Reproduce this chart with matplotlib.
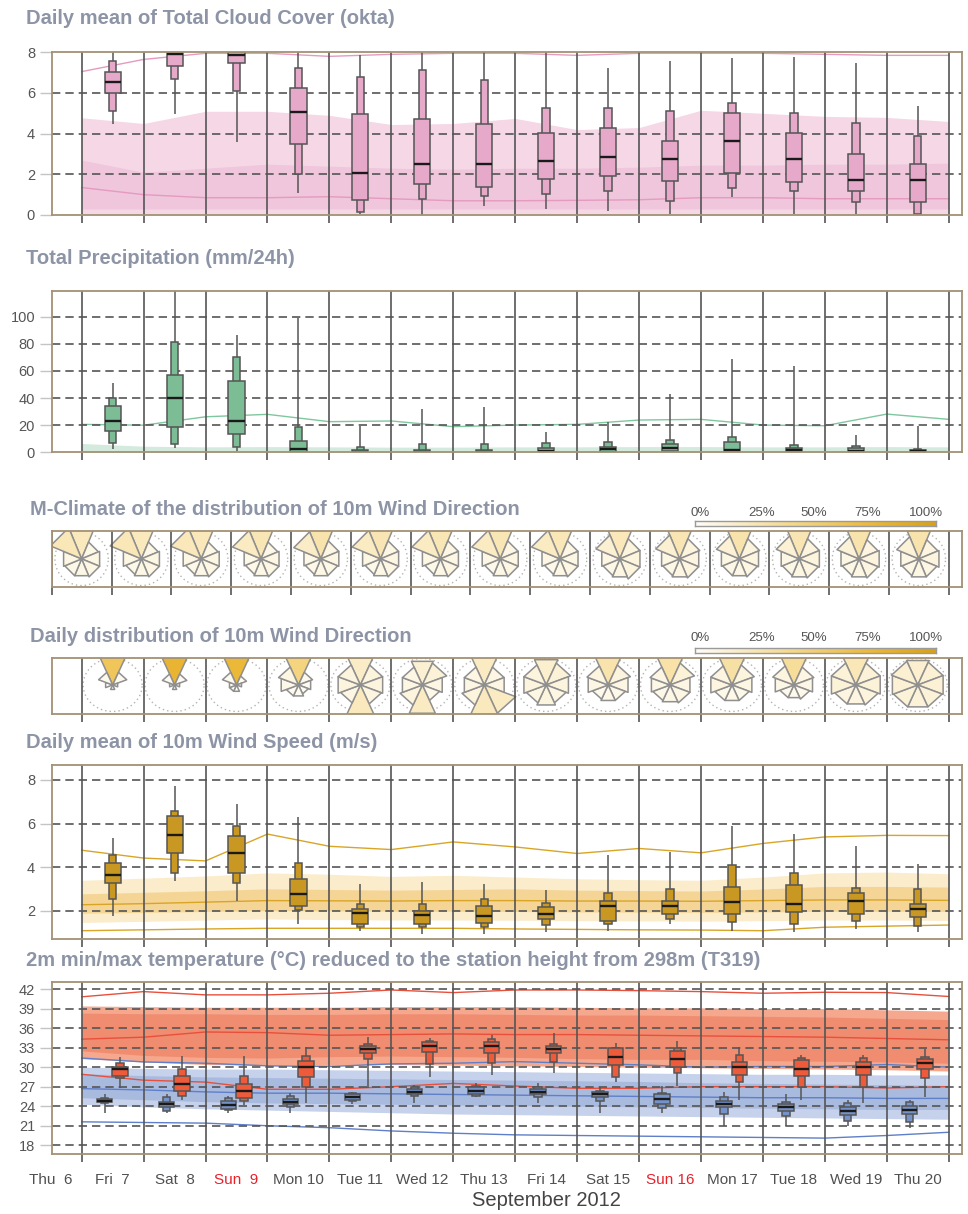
import numpy as np
import matplotlib
matplotlib.use("Agg")
import matplotlib.pyplot as plt
from matplotlib.patches import Rectangle, Polygon
from matplotlib.colors import LinearSegmentedColormap

plt.rcParams['font.family'] = ['Liberation Sans', 'DejaVu Sans']

# ---------------------------------------------------------------- data
day_labels = ["Thu  6", "Fri  7", "Sat  8", "Sun  9", "Mon 10", "Tue 11", "Wed 12",
              "Thu 13", "Fri 14", "Sat 15", "Sun 16", "Mon 17", "Tue 18", "Wed 19", "Thu 20"]
sunday_labels = ["Sun  9", "Sun 16"]
month_label = "September 2012"

# Total cloud cover (okta): ensemble min / p10 / p25 / median / p75 / p90 / max, Fri 7 .. Thu 20
cc_min = [4.47, 4.97, 3.6, 1.1, 0.03, 0.0, 0.46, 0.3, 0.2, 0.03, 0.9, 0.03, 0.03, 0.0]
cc_p10 = [5.11, 6.69, 6.1, 2.02, 0.15, 0.79, 0.95, 1.05, 1.2, 0.69, 1.34, 1.2, 0.64, 0.03]
cc_p25 = [5.98, 7.34, 7.46, 3.48, 0.72, 1.54, 1.38, 1.76, 1.93, 1.67, 2.05, 1.61, 1.2, 0.64]
cc_med = [6.55, 7.9, 7.87, 5.08, 2.08, 2.51, 2.51, 2.67, 2.84, 2.75, 3.64, 2.75, 1.71, 1.71]
cc_p75 = [7.05, 8.0, 8.0, 6.23, 4.95, 4.7, 4.46, 4.02, 4.29, 3.64, 5.01, 4.02, 3.0, 2.51]
cc_p90 = [7.59, 8.0, 8.0, 7.21, 6.8, 7.11, 6.64, 5.28, 5.28, 5.11, 5.51, 5.01, 4.52, 3.88]
cc_max = [8.0, 8.0, 8.0, 8.0, 7.87, 8.0, 8.0, 8.0, 7.23, 7.57, 7.7, 7.78, 7.47, 5.36]
# cloud cover model climate at day boundaries Fri 7 00 .. Fri 21 00
cc_clim_max = [7.05, 7.65, 7.95, 7.95, 7.8, 7.9, 7.95, 7.95, 7.85, 7.95, 7.95, 7.95, 7.9, 7.85, 7.85]
cc_clim_p90 = [4.78, 4.5, 5.1, 5.1, 4.9, 4.45, 4.5, 4.75, 4.2, 4.3, 5.15, 5.0, 4.85, 4.8, 4.6]
cc_clim_p75 = [2.7, 2.1, 2.3, 2.5, 2.4, 2.3, 2.25, 2.3, 2.3, 2.35, 2.45, 2.45, 2.5, 2.5, 2.55]
cc_clim_med = [1.35, 1.0, 0.85, 0.85, 0.9, 0.8, 0.7, 0.7, 0.72, 0.75, 0.85, 0.85, 0.8, 0.8, 0.8]
cc_clim_p25 = [0.3, 0.3, 0.3, 0.3, 0.3, 0.3, 0.3, 0.3, 0.3, 0.3, 0.3, 0.3, 0.3, 0.3, 0.3]
cc_clim_p10 = [0.0, 0.0, 0.0, 0.0, 0.0, 0.0, 0.0, 0.0, 0.0, 0.0, 0.0, 0.0, 0.0, 0.0, 0.0]

# Total precipitation (mm/24h)
pr_min = [2.2, 3.4, 1.0, 0, 0, 0, 0, 0, 0, 0, 0, 0, 0, 0]
pr_p10 = [7.1, 5.9, 3.9, 0, 0, 0, 0, 0, 0, 0.4, 0, 0, 0, 0]
pr_p25 = [15.7, 18.4, 13.3, 0, 0, 0, 0, 0, 0.4, 1.2, 0.4, 0, 0, 0]
pr_med = [23.1, 40.3, 23.1, 2.4, 0.5, 0.3, 0.3, 1.2, 2.2, 3.4, 1.7, 1.7, 1.2, 0.9]
pr_p75 = [34.1, 57.0, 52.6, 8.6, 1.7, 1.7, 1.5, 2.9, 4.1, 5.9, 7.8, 3.4, 2.9, 1.7]
pr_p90 = [40.3, 81.6, 70.5, 18.9, 3.7, 6.1, 6.1, 6.6, 7.8, 9.1, 11.5, 5.4, 4.9, 2.4]
pr_max = [51.3, 125, 86.5, 99.3, 19.4, 32.0, 33.2, 15.2, 22.6, 43.0, 68.6, 63.6, 12.8, 19.6]
pr_clim_max = [20.6, 20.0, 26.2, 28.0, 22.6, 23.1, 18.9, 20.1, 20.6, 23.8, 24.3, 20.1, 19.6, 28.2, 24.3]
pr_clim_p90 = [6.5, 4.5, 4.0, 4.2, 4.0, 3.8, 3.8, 4.0, 4.0, 4.2, 4.2, 4.0, 4.0, 4.2, 4.0]

# 10m wind direction, fraction (%) per sector N, NE, E, SE, S, SW, W, NW
mclim_dirs = [
    [22, 7, 8, 8, 7, 7, 8, 24], [22, 7, 8, 8, 7, 6, 8, 24], [23, 7, 8, 8, 7, 6, 8, 23],
    [25, 7, 8, 8, 7, 6, 7, 20], [28, 8, 8, 7, 7, 6, 7, 18], [26, 8, 8, 8, 7, 6, 8, 20],
    [25, 8, 8, 8, 7, 6, 8, 20], [25, 8, 8, 8, 7, 6, 8, 20], [24, 8, 8, 8, 7, 6, 8, 20],
    [23, 10, 10, 10, 8, 7, 8, 14], [26, 10, 9, 9, 8, 7, 8, 14], [28, 10, 9, 8, 7, 7, 8, 13],
    [26, 10, 10, 9, 8, 7, 8, 13], [28, 9, 10, 9, 8, 7, 8, 12], [28, 9, 10, 8, 8, 7, 8, 12],
]
daily_dirs = [
    [60, 4, 0.5, 0, 0.5, 0, 1, 4], [78, 3, 0.5, 0, 0.5, 0, 0.5, 3], [74, 2, 0.5, 0, 1, 1, 1, 4],
    [45, 4, 3, 2, 3, 3, 6, 8], [18, 10, 10, 9, 22, 8, 10, 10], [14, 12, 8, 6, 20, 10, 8, 8],
    [20, 8, 8, 20, 22, 10, 8, 8], [16, 12, 10, 8, 10, 8, 10, 10], [28, 10, 8, 6, 6, 5, 8, 9],
    [30, 12, 8, 8, 7, 6, 7, 8], [32, 10, 8, 6, 6, 6, 9, 9], [35, 8, 7, 5, 4, 4, 7, 9],
    [24, 12, 12, 10, 9, 9, 12, 12], [15, 13, 13, 12, 12, 12, 13, 14],
]
cbar_labels = ["0%", "25%", "50%", "75%", "100%"]

# 10m wind speed (m/s)
ws_min = [1.75, 3.36, 2.43, 1.4, 1.09, 0.93, 0.94, 1.01, 1.09, 1.4, 1.09, 1.01, 1.17, 1.01]
ws_p10 = [2.55, 3.75, 3.29, 2.05, 1.24, 1.24, 1.24, 1.35, 1.4, 1.63, 1.47, 1.4, 1.55, 1.32]
ws_p25 = [3.29, 4.67, 3.75, 2.24, 1.4, 1.4, 1.43, 1.63, 1.55, 1.86, 1.86, 1.94, 1.86, 1.74]
ws_med = [3.63, 5.5, 4.65, 2.78, 1.88, 1.83, 1.75, 1.86, 2.2, 2.24, 2.4, 2.32, 2.47, 2.09]
ws_p75 = [4.21, 6.35, 5.42, 3.47, 2.09, 2.01, 2.24, 2.17, 2.44, 2.44, 3.09, 3.17, 2.83, 2.32]
ws_p90 = [4.58, 6.59, 5.87, 4.21, 2.32, 2.32, 2.55, 2.37, 2.83, 2.98, 4.12, 3.75, 3.06, 2.98]
ws_max = [5.32, 7.73, 6.9, 6.29, 3.24, 3.32, 3.24, 2.94, 4.55, 4.7, 5.88, 5.52, 4.98, 4.13]
ws_clim_max = [4.78, 4.42, 4.29, 5.52, 4.96, 4.81, 5.16, 4.93, 4.63, 4.86, 4.66, 5.09, 5.39, 5.46, 5.45]
ws_clim_p90 = [3.4, 3.5, 3.6, 3.74, 3.68, 3.58, 3.63, 3.55, 3.47, 3.43, 3.4, 3.55, 3.74, 3.78, 3.7]
ws_clim_p75 = [2.78, 2.85, 2.92, 3.01, 2.98, 2.95, 2.98, 3.01, 2.95, 2.93, 2.91, 3.0, 3.12, 3.12, 3.09]
ws_clim_med = [2.28, 2.33, 2.4, 2.47, 2.46, 2.45, 2.47, 2.47, 2.45, 2.45, 2.44, 2.47, 2.5, 2.5, 2.48]
ws_clim_p25 = [1.89, 1.93, 1.97, 2.01, 2.0, 1.98, 1.98, 1.97, 1.95, 1.94, 1.93, 1.95, 1.98, 1.98, 1.97]
ws_clim_p10 = [1.47, 1.52, 1.58, 1.63, 1.6, 1.58, 1.58, 1.57, 1.55, 1.54, 1.53, 1.55, 1.58, 1.58, 1.56]
ws_clim_min = [1.09, 1.13, 1.17, 1.2, 1.2, 1.2, 1.2, 1.17, 1.15, 1.13, 1.12, 1.09, 1.25, 1.3, 1.35]

# 2m minimum temperature (deg C)
tn_min = [22.9, 23.0, 23.0, 22.9, 24.3, 24.55, 25.37, 24.45, 22.9, 22.9, 21.0, 21.0, 21.0, 20.7]
tn_p10 = [24.5, 23.3, 23.4, 23.93, 24.8, 25.6, 25.6, 25.47, 24.85, 23.78, 22.8, 22.55, 21.73, 21.53]
tn_p25 = [24.6, 23.84, 23.58, 24.3, 24.96, 25.9, 25.9, 25.9, 25.47, 24.34, 23.93, 23.27, 22.65, 22.76]
tn_med = [24.85, 24.34, 24.19, 24.7, 25.47, 26.24, 26.4, 26.14, 25.9, 25.06, 24.34, 23.93, 23.3, 23.43]
tn_p75 = [25.1, 24.6, 24.85, 25.1, 25.8, 26.6, 26.9, 26.6, 26.14, 25.8, 24.85, 24.34, 23.93, 24.04]
tn_p90 = [25.2, 25.37, 25.2, 25.5, 26.0, 26.9, 27.1, 26.9, 26.4, 26.1, 25.47, 24.7, 24.45, 24.7]
tn_max = [25.9, 25.9, 25.6, 26.1, 26.24, 27.26, 27.6, 27.6, 27.0, 27.1, 26.14, 25.9, 24.96, 24.96]
# 2m maximum temperature (deg C)
tx_min = [26.85, 24.96, 24.19, 24.45, 26.85, 28.55, 28.8, 29.06, 27.77, 27.1, 24.96, 24.96, 24.45, 25.47]
tx_p10 = [28.4, 25.6, 24.85, 27.0, 31.2, 30.49, 30.6, 30.84, 28.55, 29.06, 27.77, 27.0, 27.0, 28.4]
tx_p25 = [28.65, 26.3, 25.3, 28.55, 32.1, 32.38, 32.2, 32.1, 30.3, 30.08, 28.8, 28.65, 28.8, 29.67]
tx_med = [29.67, 27.37, 26.3, 30.08, 32.74, 33.3, 33.3, 32.8, 31.6, 31.2, 30.08, 29.67, 30.08, 30.6]
tx_p75 = [29.98, 28.65, 27.37, 30.95, 33.25, 33.8, 33.9, 33.3, 33.0, 32.5, 30.84, 31.1, 30.84, 31.25]
tx_p90 = [30.6, 29.67, 28.65, 31.7, 33.5, 34.07, 34.28, 33.56, 33.0, 32.9, 31.87, 31.46, 31.36, 31.6]
tx_max = [31.5, 31.7, 31.7, 33.05, 34.7, 34.43, 34.95, 35.2, 33.67, 34.0, 33.05, 31.87, 31.87, 32.74]
# temperature model climate at day boundaries
tx_clim_max = [40.8, 41.6, 41.1, 41.1, 41.35, 41.85, 41.45, 41.85, 41.85, 41.75, 41.6, 41.35, 41.5, 41.45, 40.85]
tx_clim_p90 = [39.4, 39.3, 39.2, 39.2, 39.2, 39.3, 39.3, 39.3, 39.2, 39.1, 39.1, 39.0, 39.0, 38.8, 38.6]
tx_clim_p75 = [38.3, 38.2, 38.2, 38.1, 38.1, 38.2, 38.2, 38.1, 38.0, 38.0, 37.9, 37.8, 37.7, 37.5, 37.3]
tx_clim_med = [34.3, 34.6, 35.4, 35.3, 34.9, 35.0, 35.1, 35.0, 35.0, 34.9, 34.8, 34.7, 34.6, 34.4, 34.2]
tx_clim_p25 = [32.5, 31.8, 31.5, 31.4, 31.6, 31.7, 31.6, 31.5, 31.3, 31.2, 31.2, 31.0, 30.9, 30.8, 30.6]
tx_clim_p10 = [31.3, 30.8, 30.4, 30.3, 30.3, 30.4, 30.3, 30.2, 30.1, 30.0, 29.9, 29.8, 29.7, 29.6, 29.4]
tx_clim_min = [28.9, 28.0, 27.7, 26.6, 26.6, 27.0, 27.5, 27.1, 26.75, 26.75, 27.0, 27.0, 27.0, 26.8, 27.0]
tn_clim_max = [31.4, 30.8, 30.6, 30.2, 30.1, 30.5, 30.6, 30.85, 30.6, 30.35, 30.0, 30.1, 30.1, 30.4, 30.0]
tn_clim_p90 = [30.0, 29.8, 29.7, 29.7, 29.6, 29.5, 29.4, 29.3, 29.2, 29.1, 29.0, 28.9, 28.9, 28.8, 28.8]
tn_clim_p75 = [29.0, 28.7, 28.5, 28.4, 28.3, 28.2, 28.1, 28.0, 27.9, 27.8, 27.6, 27.5, 27.4, 27.3, 27.2]
tn_clim_med = [26.7, 26.5, 26.2, 26.0, 26.0, 25.9, 25.8, 25.7, 25.6, 25.5, 25.4, 25.3, 25.3, 25.2, 25.2]
tn_clim_p25 = [25.3, 25.0, 24.7, 24.5, 24.4, 24.3, 24.2, 24.1, 24.0, 23.9, 23.8, 23.7, 23.6, 23.5, 23.5]
tn_clim_p10 = [24.3, 23.9, 23.6, 23.4, 23.2, 23.0, 22.8, 22.7, 22.6, 22.5, 22.4, 22.3, 22.2, 22.1, 22.0]
tn_clim_min = [21.6, 21.5, 21.4, 21.0, 20.7, 20.2, 19.85, 19.6, 19.5, 19.4, 19.3, 19.2, 19.1, 19.5, 20.0]

# ---------------------------------------------------------------- layout
W, H = 968, 1214
fig = plt.figure(figsize=(W / 100, H / 100), dpi=100)

AX_L, AX_R = 51.7, 962.3
DAY_PX = 61.93
X0_PX = 81.7
XMIN = (AX_L - X0_PX) / DAY_PX
XMAX = (AX_R - X0_PX) / DAY_PX

SPINE = "#a39274"
GRID = "#555555"
TITLE = "#8d94a6"
TICK_TXT = "#555555"

n_days = len(cc_med)
box_x = np.arange(n_days) + 0.5
bounds = np.arange(n_days + 1)


def add_px_axes(top, bottom):
    return fig.add_axes([AX_L / W, 1 - bottom / H, (AX_R - AX_L) / W, (bottom - top) / H])


def frame(ax, top, bottom, lines):
    ax.set_xlim(XMIN, XMAX)
    ax.set_xticks([])
    for s in ax.spines.values():
        s.set_color(SPINE)
        s.set_linewidth(1.3)
        s.set_zorder(10)
    ax.vlines(lines, 0, 1, transform=ax.get_xaxis_transform(), color="#555555", lw=1.2, zorder=2.5)
    tick_len = 8.0 / (bottom - top)
    ax.vlines(lines, -tick_len, 0, transform=ax.get_xaxis_transform(), color="#555555",
              lw=1.2, clip_on=False)


def yaxis(ax, ylim, ticks, grid):
    ax.set_ylim(*ylim)
    ax.set_yticks(ticks)
    ax.set_yticklabels([str(t) for t in ticks])
    ax.tick_params(axis="y", length=9, width=1, color="#c4c4c4", labelsize=10.5,
                   labelcolor=TICK_TXT, pad=3)
    for g in grid:
        ax.axhline(g, color=GRID, lw=1.2, ls=(0, (5, 3)), zorder=2.4)


def title(y, text, x=26):
    fig.text(x / W, 1 - y / H, text, fontsize=14.5, fontweight="bold", color=TITLE,
             va="center", ha="left")


def boxes(ax, xs, lo, p10, p25, med, p75, p90, hi, color, wide=0.26, narrow=0.12):
    for x, a, b, c, m, d, e, f in zip(xs, lo, p10, p25, med, p75, p90, hi):
        ax.vlines(x, a, f, color="#555555", lw=1.1, zorder=3)
        ax.add_patch(Rectangle((x - narrow / 2, b), narrow, e - b, fc=color, ec="#555555",
                               lw=1.1, zorder=4))
        ax.add_patch(Rectangle((x - wide / 2, c), wide, d - c, fc=color, ec="#555555",
                               lw=1.1, zorder=5))
        ax.hlines(m, x - wide / 2, x + wide / 2, color="#1a1a1a", lw=1.7, zorder=6)


def climate(ax, lo_out, hi_out, lo_in, hi_in, med, c_out, c_in, c_line, lmax=None, lmin=None):
    ax.fill_between(bounds, lo_out, hi_out, color=c_out, lw=0, zorder=1)
    ax.fill_between(bounds, lo_in, hi_in, color=c_in, lw=0, zorder=1.1)
    ax.plot(bounds, med, color=c_line, lw=1.0, zorder=1.3)
    if lmax is not None:
        ax.plot(bounds, lmax, color=c_line, lw=1.0, zorder=1.3)
    if lmin is not None:
        ax.plot(bounds, lmin, color=c_line, lw=1.0, zorder=1.3)


# ---------------------------------------------------------------- cloud cover
title(18, "Daily mean of Total Cloud Cover (okta)")
ax = add_px_axes(52.3, 215)
frame(ax, 52.3, 215, bounds)
yaxis(ax, (0, 8), [0, 2, 4, 6, 8], [2, 4, 6])
climate(ax, cc_clim_p10, cc_clim_p90, cc_clim_p25, cc_clim_p75, cc_clim_med,
        "#f5d7e6", "#efc6dc", "#e59ac0", lmax=cc_clim_max)
boxes(ax, box_x, cc_min, cc_p10, cc_p25, cc_med, cc_p75, cc_p90, cc_max, "#e6a9c9")

# ---------------------------------------------------------------- precipitation
title(258, "Total Precipitation (mm/24h)")
ax = add_px_axes(291, 452.3)
frame(ax, 291, 452.3, bounds)
yaxis(ax, (0, 119), [0, 20, 40, 60, 80, 100], [20, 40, 60, 80, 100])
ax.fill_between(bounds, 0, pr_clim_p90, color="#d3eadc", lw=0, zorder=1)
ax.plot(bounds, pr_clim_max, color="#7fc79e", lw=1.0, zorder=1.3)
boxes(ax, box_x, pr_min, pr_p10, pr_p25, pr_med, pr_p75, pr_p90, pr_max, "#7dbd96")

# ---------------------------------------------------------------- wind direction roses
wind_cmap = LinearSegmentedColormap.from_list(
    "wind", ["#fffdf8", "#f9e6b5", "#f3cf72", "#ebb735", "#d9a114"])
REF_FRAC = 15.0


def rose(ax, cx, fracs, rx, ry):
    t = np.linspace(0, 2 * np.pi, 120)
    ax.plot(cx + rx * np.cos(t), ry * np.sin(t), ls=(0, (1, 2.2)), color="#b3b3b3",
            lw=1.0, zorder=1)
    for k, f in enumerate(fracs):
        if f <= 0:
            continue
        r = np.sqrt(f / REF_FRAC)
        a0 = np.deg2rad(k * 45 - 22.5)
        a1 = np.deg2rad(k * 45 + 22.5)
        pts = [(cx, 0), (cx + rx * r * np.sin(a0), ry * r * np.cos(a0)),
               (cx + rx * r * np.sin(a1), ry * r * np.cos(a1))]
        ax.add_patch(Polygon(pts, closed=True, fc=wind_cmap(f / 100.0), ec="#8f8f8f",
                             lw=1.1, zorder=2, joinstyle="round"))


def colorbar(y_top, y_bot, y_lab):
    cax = fig.add_axes([695 / W, 1 - y_bot / H, (936 - 695) / W, (y_bot - y_top) / H])
    cax.imshow(np.linspace(0, 1, 256)[None, :], aspect="auto", cmap=wind_cmap,
               extent=(0, 1, 0, 1))
    cax.set_xticks([])
    cax.set_yticks([])
    for s in cax.spines.values():
        s.set_color("#9a9a9a")
        s.set_linewidth(1.0)
    for lab, xp in zip(cbar_labels, [700, 762, 814, 868, 926]):
        fig.text(xp / W, 1 - y_lab / H, lab, fontsize=9.5, color="#555555",
                 ha="center", va="center")


# M-climate panel: 15 equal cells
title(510, "M-Climate of the distribution of 10m Wind Direction", x=30)
top, bot = 531, 586.7
ax = add_px_axes(top, bot)
cell_edges = np.linspace(XMIN, bounds[-1], len(mclim_dirs) + 1)
frame(ax, top, bot, cell_edges)
ry_lim = (bot - top) / 2 / 26.7
ax.set_ylim(-ry_lim, ry_lim)
ax.set_yticks([])
for i, fr in enumerate(mclim_dirs):
    cx = 0.5 * (cell_edges[i] + cell_edges[i + 1])
    rose(ax, cx, fr, 26.7 / DAY_PX, 1.0)
colorbar(520.7, 526, 512.7)

# daily distribution panel
title(637, "Daily distribution of 10m Wind Direction", x=30)
top, bot = 658.3, 714.3
ax = add_px_axes(top, bot)
frame(ax, top, bot, bounds)
ry_lim = (bot - top) / 2 / 26.5
ax.set_ylim(-ry_lim - 0.05, ry_lim - 0.05)
ax.set_yticks([])
for x, fr in zip(box_x, daily_dirs):
    rose(ax, x, fr, 29.5 / DAY_PX, 1.0)
colorbar(648.3, 653.3, 638)

# ---------------------------------------------------------------- wind speed
title(743, "Daily mean of 10m Wind Speed (m/s)")
ax = add_px_axes(764.7, 939)
frame(ax, 764.7, 939, bounds)
yaxis(ax, (0.71, 8.7), [2, 4, 6, 8], [2, 4, 6, 8])
climate(ax, ws_clim_p10, ws_clim_p90, ws_clim_p25, ws_clim_p75, ws_clim_med,
        "#fbeccb", "#f5d596", "#d9a526", lmax=ws_clim_max, lmin=ws_clim_min)
boxes(ax, box_x, ws_min, ws_p10, ws_p25, ws_med, ws_p75, ws_p90, ws_max, "#c99822")

# ---------------------------------------------------------------- temperature
title(960, "2m min/max temperature (\u00b0C) reduced to the station height from 298m (T319)")
ax = add_px_axes(982.3, 1154)
frame(ax, 982.3, 1154, bounds)
t_ticks = list(range(18, 43, 3))
yaxis(ax, (16.66, 43.03), t_ticks, t_ticks)
climate(ax, tx_clim_p10, tx_clim_p90, tx_clim_p25, tx_clim_p75, tx_clim_med,
        "#f5a88e", "#f08d70", "#e8503c", lmax=tx_clim_max, lmin=tx_clim_min)
climate(ax, tn_clim_p10, tn_clim_p90, tn_clim_p25, tn_clim_p75, tn_clim_med,
        "#c6d1eb", "#a9badf", "#5f7fc8", lmax=tn_clim_max, lmin=tn_clim_min)
boxes(ax, np.arange(n_days) + 0.37, tn_min, tn_p10, tn_p25, tn_med, tn_p75, tn_p90, tn_max,
      "#7592c9", wide=0.25, narrow=0.12)
boxes(ax, np.arange(n_days) + 0.62, tx_min, tx_p10, tx_p25, tx_med, tx_p75, tx_p90, tx_max,
      "#ee5b3b", wide=0.25, narrow=0.12)

# day labels below the temperature panel
label_x = np.concatenate([[-0.5], box_x])
for lx, lab in zip(label_x, day_labels):
    col = "#e8212b" if lab in sunday_labels else "#505050"
    px = X0_PX + lx * DAY_PX
    fig.text(px / W, 1 - 1180 / H, lab, fontsize=11, color=col, ha="center", va="center")
fig.text(546 / W, 1 - 1200 / H, month_label, fontsize=14.5, color="#444444",
         ha="center", va="center")

fig.savefig("out.png", dpi=100)
